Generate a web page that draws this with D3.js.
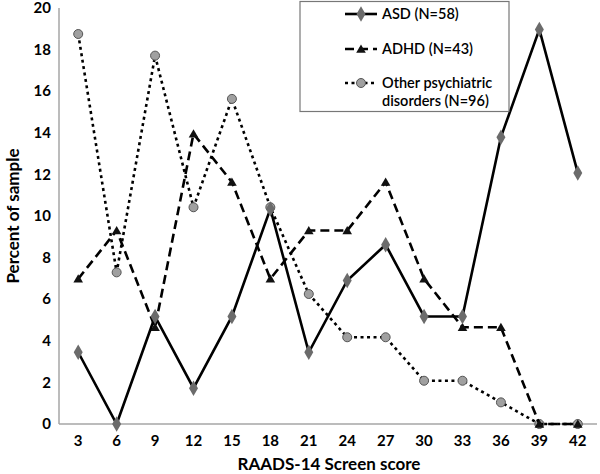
<!DOCTYPE html>
<html>
<head>
<meta charset="utf-8">
<script src="https://cdn.jsdelivr.net/npm/d3@7"></script>
<style>
  body { margin: 0; background: #fff; }
  text { font-family: Lato, "Open Sans", sans-serif; font-weight: bold; fill: #000; }
</style>
</head>
<body>
<svg id="chart" width="600" height="474"></svg>
<script>
var width = 600;
var height = 474;

// RAADS-14 screen score categories
var scores = [3, 6, 9, 12, 15, 18, 21, 24, 27, 30, 33, 36, 39, 42];
var yTicks = [0, 2, 4, 6, 8, 10, 12, 14, 16, 18, 20];

var asd = [3.45, 0, 5.17, 1.72, 5.17, 10.34, 3.45, 6.9, 8.62, 5.17, 5.17, 13.79, 18.97, 12.07];
var adhd = [6.98, 9.3, 4.65, 13.95, 11.63, 6.98, 9.3, 9.3, 11.63, 6.98, 4.65, 4.65, 0, 0];
var other = [18.75, 7.29, 17.71, 10.42, 15.63, 10.42, 6.25, 4.17, 4.17, 2.08, 2.08, 1.04, 0, 0];

var seriesNames = ["ASD (N=58)", "ADHD (N=43)", "Other psychiatric|disorders (N=96)"];

var series = [
    { name: seriesNames[0], values: asd, dash: null, marker: "diamond" },
    { name: seriesNames[1], values: adhd, dash: "9,5", marker: "triangle" },
    { name: seriesNames[2], values: other, dash: "3,3.5", marker: "circle" }
];

var svg = d3.select("#chart");
var plotLeft = 59, plotRight = 597, plotTop = 8, plotBottom = 424;

var x = d3.scaleBand().domain(scores).range([plotLeft, plotRight]);
var y = d3.scaleLinear().domain([0, 20]).range([plotBottom, plotTop]);
var cx = function (i) { return x(scores[i]) + x.bandwidth() / 2; };

// axes lines
svg.append("line").attr("x1", plotLeft).attr("x2", plotLeft).attr("y1", y(20)).attr("y2", plotBottom)
    .attr("stroke", "#a6a6a6").attr("stroke-width", 1.5);
svg.append("line").attr("x1", plotLeft).attr("x2", plotRight).attr("y1", plotBottom).attr("y2", plotBottom)
    .attr("stroke", "#a6a6a6").attr("stroke-width", 1.5);

// y tick labels
svg.selectAll(".ytick").data(yTicks).enter().append("text")
    .attr("x", 51).attr("y", function (d) { return y(d); })
    .attr("dy", "0.35em").attr("text-anchor", "end")
    .style("font-size", "15px")
    .text(function (d) { return d; });

// x tick labels
svg.selectAll(".xtick").data(scores).enter().append("text")
    .attr("x", function (d) { return x(d) + x.bandwidth() / 2; })
    .attr("y", 446).attr("text-anchor", "middle")
    .style("font-size", "15px")
    .text(function (d) { return d; });

// axis titles
svg.append("text").attr("x", 329).attr("y", 470).attr("text-anchor", "middle")
    .style("font-size", "17px").text("RAADS-14 Screen score");
svg.append("text").attr("transform", "translate(19,216) rotate(-90)").attr("text-anchor", "middle")
    .style("font-size", "17px").text("Percent of sample");

var line = d3.line()
    .x(function (d, i) { return cx(i); })
    .y(function (d) { return y(d); });

function drawMarker(g, type, px, py) {
    if (type === "diamond") {
        g.append("path").attr("d", d3.symbol().type(d3.symbolDiamond).size(70)())
            .attr("transform", "translate(" + px + "," + py + ")")
            .attr("fill", "#6b6b6b");
    } else if (type === "triangle") {
        g.append("path").attr("d", d3.symbol().type(d3.symbolTriangle).size(40)())
            .attr("transform", "translate(" + px + "," + (py + 1) + ")")
            .attr("fill", "#111");
    } else {
        g.append("circle").attr("cx", px).attr("cy", py).attr("r", 4.5)
            .attr("fill", "#a0a0a0").attr("stroke", "#555").attr("stroke-width", 1);
    }
}

// draw series: dotted first, then dashed, then solid
[2, 1, 0].forEach(function (k) {
    var s = series[k];
    var g = svg.append("g");
    g.append("path").datum(s.values)
        .attr("d", line)
        .attr("fill", "none")
        .attr("stroke", "#000")
        .attr("stroke-width", 2.6)
        .attr("stroke-dasharray", s.dash);
    s.values.forEach(function (v, i) { drawMarker(g, s.marker, cx(i), y(v)); });
});

// legend
var lg = svg.append("g");
lg.append("rect").attr("x", 300).attr("y", 1.5).attr("width", 209).attr("height", 110)
    .attr("fill", "#fff").attr("stroke", "#777").attr("stroke-width", 1.2);
var rowY = [14, 49, 83];
series.forEach(function (s, k) {
    lg.append("line").attr("x1", 345).attr("x2", 377).attr("y1", rowY[k]).attr("y2", rowY[k])
        .attr("stroke", "#000").attr("stroke-width", 2.6).attr("stroke-dasharray", s.dash);
    drawMarker(lg, s.marker, 361, rowY[k]);
    var parts = s.name.split("|");
    parts.forEach(function (p, j) {
        lg.append("text").attr("x", 382).attr("y", rowY[k] + j * 18).attr("dy", "0.35em")
            .style("font-size", "14.5px").style("font-weight", "600").text(p);
    });
});
</script>
</body>
</html>
